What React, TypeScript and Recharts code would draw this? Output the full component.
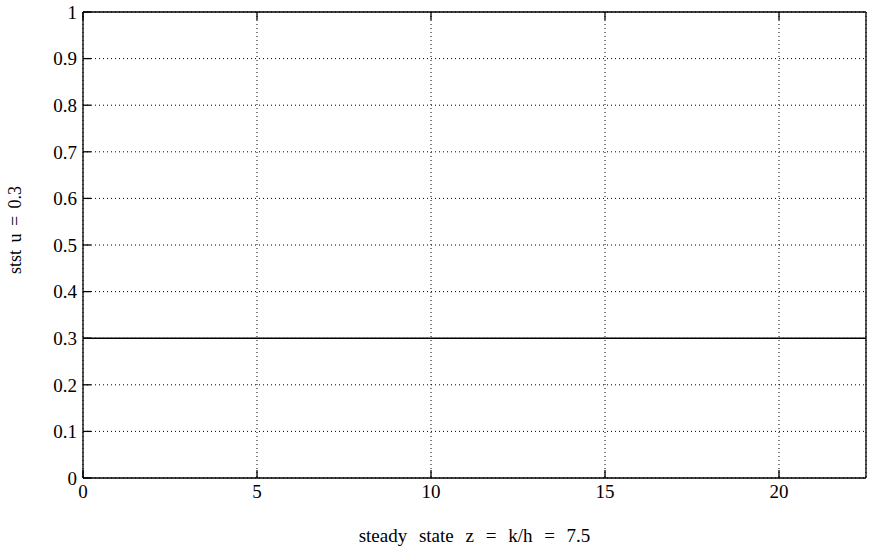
import { LineChart, Line, XAxis, YAxis, CartesianGrid, Label } from 'recharts';

// steady state solution over time (constant)
const timeValues = [0, 2.5, 5, 7.5, 10, 12.5, 15, 17.5, 20, 22.5];
const ststValues = [0.3, 0.3, 0.3, 0.3, 0.3, 0.3, 0.3, 0.3, 0.3, 0.3];
const xTicks = [0, 5, 10, 15, 20];
const yTicks = [0, 0.1, 0.2, 0.3, 0.4, 0.5, 0.6, 0.7, 0.8, 0.9, 1];

const data = timeValues.map((t, i) => ({ t, u: ststValues[i] }));

const font = '"Liberation Serif", "DejaVu Serif", serif';
const tickStyle = { fill: '#000', fontSize: 19, fontFamily: font, style: { fontSize: 19 } };
const axisLine = { stroke: '#000', strokeWidth: 1.3 };
const tickLine = { stroke: '#000', strokeWidth: 1.3 };

export default function App() {
  return (
    <div style={{ position: 'absolute', left: 0, top: 0, background: '#fff' }}>
      <LineChart
        width={871}
        height={554}
        data={data}
        margin={{ top: 11, right: 4, bottom: 46, left: 0 }}
      >
        <CartesianGrid stroke="#000" strokeDasharray="1 3" strokeWidth={1} />
        <XAxis
          dataKey="t"
          type="number"
          domain={[0, 22.5]}
          ticks={xTicks}
          height={30}
          axisLine={axisLine}
          tickLine={tickLine}
          tickSize={-8}
          tickMargin={15}
          tick={tickStyle}
          fontSize={19}
          fontFamily={font}
          allowDataOverflow
        >
          <Label
            value="steady state z = k/h = 7.5"
            position="bottom"
            offset={21}
            style={{ fill: '#000', fontSize: 19, fontFamily: font, wordSpacing: 7 }}
          />
        </XAxis>
        <XAxis
          xAxisId="top"
          orientation="top"
          dataKey="t"
          type="number"
          domain={[0, 22.5]}
          ticks={xTicks}
          height={1}
          axisLine={axisLine}
          tickLine={tickLine}
          tickSize={-8}
          tick={() => <g />}
          allowDataOverflow
        />
        <YAxis
          type="number"
          domain={[0, 1]}
          ticks={yTicks}
          width={83}
          axisLine={axisLine}
          tickLine={tickLine}
          tickSize={-8}
          tickMargin={14}
          tick={tickStyle}
          fontSize={19}
          fontFamily={font}
          interval={0}
        >
          <Label
            value="stst u = 0.3"
            angle={-90}
            position="insideLeft"
            offset={15}
            dy={-15}
            style={{ fill: '#000', fontSize: 18, fontFamily: font, textAnchor: 'middle', wordSpacing: 3 }}
          />
        </YAxis>
        <YAxis
          yAxisId="right"
          orientation="right"
          type="number"
          domain={[0, 1]}
          ticks={yTicks}
          width={1}
          axisLine={axisLine}
          tickLine={tickLine}
          tickSize={-8}
          tick={() => <g />}
          interval={0}
        />
        <Line
          dataKey="u"
          type="linear"
          stroke="#000"
          strokeWidth={1.5}
          dot={false}
          isAnimationActive={false}
        />
      </LineChart>
    </div>
  );
}
